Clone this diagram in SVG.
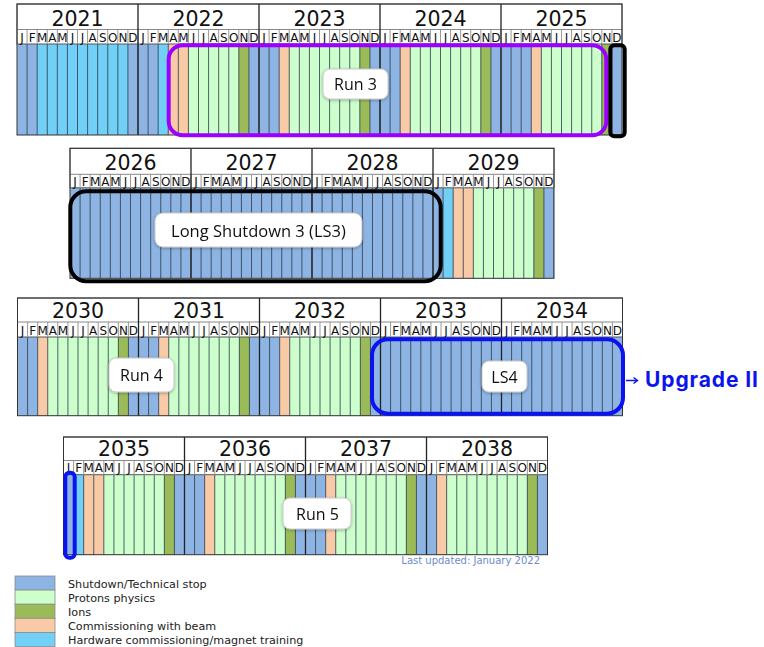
<svg xmlns="http://www.w3.org/2000/svg" xmlns:xlink="http://www.w3.org/1999/xlink" width="764" height="647" viewBox="0 0 764 647">
  <style>
    .sd{fill:#8DB4E2}
    .pp{fill:#CCFFCC}
    .ion{fill:#9BBB59}
    .cb{fill:#F9CAA6}
    .hw{fill:#72CFF6}
    .hdr{fill:#ffffff;stroke:#555;stroke-width:1}
    .hsep{stroke:#888;stroke-width:1}
    .hgrid{stroke:#9a9a9a;stroke-width:1;fill:none}
    .bgrid{stroke:#2b3a4a;stroke-width:0.8;fill:none}
    .ygrid{stroke:#222;stroke-width:1.3;fill:none}
    .frame{fill:none;stroke:#333;stroke-width:1}
    .yr{font-family:"DejaVu Sans",Verdana,sans-serif;font-size:20.5px;fill:#111;text-anchor:middle}
    .mo{font-family:"DejaVu Sans",Verdana,sans-serif;font-size:12px;fill:#111;text-anchor:middle}
    .lblbox{fill:#fff;stroke:#c8c8c8;stroke-width:1}
    .lbl{font-family:"Open Sans",sans-serif;font-size:16px;fill:#111;text-anchor:middle}
    .leg{font-family:"DejaVu Sans",Verdana,sans-serif;font-size:11.2px;fill:#222}
    .sw{stroke:#8a8a8a;stroke-width:0.8}
  </style>
  <defs>
    <!-- month separators, one every 121/12 px -->
    <path id="mlines" d="M10.08 0V130M20.17 0V130M30.25 0V130M40.33 0V130M50.42 0V130M60.5 0V130M70.58 0V130M80.67 0V130M90.75 0V130M100.83 0V130M110.92 0V130M121 0V130M131.08 0V130M141.17 0V130M151.25 0V130M161.33 0V130M171.42 0V130M181.5 0V130M191.58 0V130M201.67 0V130M211.75 0V130M221.83 0V130M231.92 0V130M242 0V130M252.08 0V130M262.17 0V130M272.25 0V130M282.33 0V130M292.42 0V130M302.5 0V130M312.58 0V130M322.67 0V130M332.75 0V130M342.83 0V130M352.92 0V130M363 0V130M373.08 0V130M383.17 0V130M393.25 0V130M403.33 0V130M413.42 0V130M423.5 0V130M433.58 0V130M443.67 0V130M453.75 0V130M463.83 0V130M473.92 0V130M484 0V130M494.08 0V130M504.17 0V130M514.25 0V130M524.33 0V130M534.42 0V130M544.5 0V130M554.58 0V130M564.67 0V130M574.75 0V130M584.83 0V130M594.92 0V130"/>
    <filter id="shadow" x="-20%" y="-30%" width="140%" height="170%">
      <feDropShadow dx="0" dy="1" stdDeviation="1.4" flood-color="#000" flood-opacity="0.3"/>
    </filter>
  </defs>

  <!-- 2021 - 2025 -->
  <g id="row-2021-2025" transform="translate(17,4)">
    <rect class="sd" x="0" y="40" width="605" height="91"/>
    <rect class="hw" x="20.17" y="40" width="90.75" height="91"/>
    <rect class="hw" x="141.17" y="40" width="10.08" height="91"/>
    <rect class="cb" x="151.25" y="40" width="20.17" height="91"/>
    <rect class="cb" x="262.17" y="40" width="10.08" height="91"/>
    <rect class="cb" x="383.17" y="40" width="10.08" height="91"/>
    <rect class="cb" x="514.25" y="40" width="10.08" height="91"/>
    <rect class="pp" x="171.42" y="40" width="50.42" height="91"/>
    <rect class="pp" x="272.25" y="40" width="70.58" height="91"/>
    <rect class="pp" x="393.25" y="40" width="70.58" height="91"/>
    <rect class="pp" x="524.33" y="40" width="60.5" height="91"/>
    <rect class="ion" x="221.83" y="40" width="10.08" height="91"/>
    <rect class="ion" x="342.83" y="40" width="10.08" height="91"/>
    <rect class="ion" x="463.83" y="40" width="10.08" height="91"/>
    <rect class="ion" x="584.83" y="40" width="10.08" height="91"/>
    <svg x="0" y="40" width="605" height="91"><use href="#mlines" class="bgrid"/></svg>
    <rect class="hdr" x="0" y="0" width="605" height="40"/>
    <svg x="0" y="25.5" width="605" height="14.5"><use href="#mlines" class="hgrid"/></svg>
    <line class="hsep" x1="0" y1="25.5" x2="605" y2="25.5"/>
    <path class="ygrid" d="M121 0V131M242 0V131M363 0V131M484 0V131"/>
    <rect class="frame" x="0" y="0" width="605" height="131"/>
    <text class="yr" x="60.5" y="22">2021</text>
    <text class="yr" x="181.5" y="22">2022</text>
    <text class="yr" x="302.5" y="22">2023</text>
    <text class="yr" x="423.5" y="22">2024</text>
    <text class="yr" x="544.5" y="22">2025</text>
    <text class="mo" y="37.7" x="5.04 15.13 25.21 35.29 45.38 55.46 65.54 75.63 85.71 95.79 105.88 115.96 126.04 136.13 146.21 156.29 166.38 176.46 186.54 196.63 206.71 216.79 226.88 236.96 247.04 257.13 267.21 277.29 287.38 297.46 307.54 317.63 327.71 337.79 347.88 357.96 368.04 378.13 388.21 398.29 408.38 418.46 428.54 438.63 448.71 458.79 468.88 478.96 489.04 499.13 509.21 519.29 529.38 539.46 549.54 559.63 569.71 579.79 589.88 599.96">JFMAMJJASONDJFMAMJJASONDJFMAMJJASONDJFMAMJJASONDJFMAMJJASOND</text>
  </g>

  <!-- 2026 - 2029 -->
  <g id="row-2026-2029" transform="translate(70,148.3)">
    <rect class="sd" x="0" y="39.5" width="484" height="90.5"/>
    <rect class="hw" x="373.08" y="39.5" width="10.08" height="90.5"/>
    <rect class="cb" x="383.17" y="39.5" width="20.17" height="90.5"/>
    <rect class="pp" x="403.33" y="39.5" width="60.5" height="90.5"/>
    <rect class="ion" x="463.83" y="39.5" width="10.08" height="90.5"/>
    <svg x="0" y="39.5" width="484" height="90.5"><use href="#mlines" class="bgrid"/></svg>
    <rect class="hdr" x="0" y="0" width="484" height="39.5"/>
    <svg x="0" y="26" width="484" height="13.5"><use href="#mlines" class="hgrid"/></svg>
    <line class="hsep" x1="0" y1="26" x2="484" y2="26"/>
    <path class="ygrid" d="M121 0V130M242 0V130M363 0V130"/>
    <rect class="frame" x="0" y="0" width="484" height="130"/>
    <text class="yr" x="60.5" y="21.7">2026</text>
    <text class="yr" x="181.5" y="21.7">2027</text>
    <text class="yr" x="302.5" y="21.7">2028</text>
    <text class="yr" x="423.5" y="21.7">2029</text>
    <text class="mo" y="37.4" x="5.04 15.13 25.21 35.29 45.38 55.46 65.54 75.63 85.71 95.79 105.88 115.96 126.04 136.13 146.21 156.29 166.38 176.46 186.54 196.63 206.71 216.79 226.88 236.96 247.04 257.13 267.21 277.29 287.38 297.46 307.54 317.63 327.71 337.79 347.88 357.96 368.04 378.13 388.21 398.29 408.38 418.46 428.54 438.63 448.71 458.79 468.88 478.96">JFMAMJJASONDJFMAMJJASONDJFMAMJJASONDJFMAMJJASOND</text>
  </g>

  <!-- 2030 - 2034 -->
  <g id="row-2030-2034" transform="translate(17.5,298)">
    <rect class="sd" x="0" y="39" width="605" height="78.7"/>
    <rect class="cb" x="20.17" y="39" width="10.08" height="78.7"/>
    <rect class="cb" x="141.17" y="39" width="10.08" height="78.7"/>
    <rect class="cb" x="262.17" y="39" width="10.08" height="78.7"/>
    <rect class="pp" x="30.25" y="39" width="70.58" height="78.7"/>
    <rect class="pp" x="151.25" y="39" width="70.58" height="78.7"/>
    <rect class="pp" x="272.25" y="39" width="70.58" height="78.7"/>
    <rect class="ion" x="100.83" y="39" width="10.08" height="78.7"/>
    <rect class="ion" x="221.83" y="39" width="10.08" height="78.7"/>
    <rect class="ion" x="342.83" y="39" width="10.08" height="78.7"/>
    <svg x="0" y="39" width="605" height="78.7"><use href="#mlines" class="bgrid"/></svg>
    <rect class="hdr" x="0" y="0" width="605" height="39"/>
    <svg x="0" y="24" width="605" height="15"><use href="#mlines" class="hgrid"/></svg>
    <line class="hsep" x1="0" y1="24" x2="605" y2="24"/>
    <path class="ygrid" d="M121 0V117.7M242 0V117.7M363 0V117.7M484 0V117.7"/>
    <rect class="frame" x="0" y="0" width="605" height="117.7"/>
    <text class="yr" x="60.5" y="20.3">2030</text>
    <text class="yr" x="181.5" y="20.3">2031</text>
    <text class="yr" x="302.5" y="20.3">2032</text>
    <text class="yr" x="423.5" y="20.3">2033</text>
    <text class="yr" x="544.5" y="20.3">2034</text>
    <text class="mo" y="37" x="5.04 15.13 25.21 35.29 45.38 55.46 65.54 75.63 85.71 95.79 105.88 115.96 126.04 136.13 146.21 156.29 166.38 176.46 186.54 196.63 206.71 216.79 226.88 236.96 247.04 257.13 267.21 277.29 287.38 297.46 307.54 317.63 327.71 337.79 347.88 357.96 368.04 378.13 388.21 398.29 408.38 418.46 428.54 438.63 448.71 458.79 468.88 478.96 489.04 499.13 509.21 519.29 529.38 539.46 549.54 559.63 569.71 579.79 589.88 599.96">JFMAMJJASONDJFMAMJJASONDJFMAMJJASONDJFMAMJJASONDJFMAMJJASOND</text>
  </g>

  <!-- 2035 - 2038 -->
  <g id="row-2035-2038" transform="translate(63.5,437)">
    <rect class="sd" x="0" y="37.7" width="484" height="80"/>
    <rect class="hw" x="10.08" y="37.7" width="10.08" height="80"/>
    <rect class="cb" x="20.17" y="37.7" width="20.17" height="80"/>
    <rect class="cb" x="141.17" y="37.7" width="10.08" height="80"/>
    <rect class="cb" x="262.17" y="37.7" width="10.08" height="80"/>
    <rect class="cb" x="373.08" y="37.7" width="10.08" height="80"/>
    <rect class="pp" x="40.33" y="37.7" width="60.5" height="80"/>
    <rect class="pp" x="151.25" y="37.7" width="70.58" height="80"/>
    <rect class="pp" x="272.25" y="37.7" width="70.58" height="80"/>
    <rect class="pp" x="383.17" y="37.7" width="80.67" height="80"/>
    <rect class="ion" x="100.83" y="37.7" width="10.08" height="80"/>
    <rect class="ion" x="221.83" y="37.7" width="10.08" height="80"/>
    <rect class="ion" x="342.83" y="37.7" width="10.08" height="80"/>
    <rect class="ion" x="463.83" y="37.7" width="10.08" height="80"/>
    <svg x="0" y="37.7" width="484" height="80"><use href="#mlines" class="bgrid"/></svg>
    <rect class="hdr" x="0" y="0" width="484" height="37.7"/>
    <svg x="0" y="23.5" width="484" height="14.2"><use href="#mlines" class="hgrid"/></svg>
    <line class="hsep" x1="0" y1="23.5" x2="484" y2="23.5"/>
    <path class="ygrid" d="M121 0V117.7M242 0V117.7M363 0V117.7"/>
    <rect class="frame" x="0" y="0" width="484" height="117.7"/>
    <text class="yr" x="60.5" y="19.3">2035</text>
    <text class="yr" x="181.5" y="19.3">2036</text>
    <text class="yr" x="302.5" y="19.3">2037</text>
    <text class="yr" x="423.5" y="19.3">2038</text>
    <text class="mo" y="35.3" x="5.04 15.13 25.21 35.29 45.38 55.46 65.54 75.63 85.71 95.79 105.88 115.96 126.04 136.13 146.21 156.29 166.38 176.46 186.54 196.63 206.71 216.79 226.88 236.96 247.04 257.13 267.21 277.29 287.38 297.46 307.54 317.63 327.71 337.79 347.88 357.96 368.04 378.13 388.21 398.29 408.38 418.46 428.54 438.63 448.71 458.79 468.88 478.96">JFMAMJJASONDJFMAMJJASONDJFMAMJJASONDJFMAMJJASOND</text>
  </g>

  <!-- period outlines -->
  <g id="run3-box"><rect x="168.7" y="45.3" width="437.6" height="90" rx="14" fill="none" stroke="#9B00FF" stroke-width="4"/></g>
  <g id="ys-2025-box"><rect x="610.3" y="45.3" width="14.4" height="91" rx="4" fill="none" stroke="#000" stroke-width="4"/></g>
  <g id="ls3-box"><rect x="70.3" y="191.3" width="370.4" height="90" rx="16" fill="none" stroke="#000" stroke-width="4"/></g>
  <g id="ls4-box"><rect x="372" y="339.3" width="251" height="74.4" rx="16" fill="none" stroke="#0B14EE" stroke-width="4"/></g>
  <g id="ys-2035-box"><rect x="65.3" y="472.7" width="9.4" height="85" rx="4" fill="none" stroke="#0B14EE" stroke-width="4"/></g>

  <!-- period labels -->
  <g id="run3-label" filter="url(#shadow)"><rect class="lblbox" x="323" y="69" width="65" height="30" rx="7"/><text class="lbl" x="355.5" y="90">Run 3</text></g>
  <g id="ls3-label" filter="url(#shadow)"><rect class="lblbox" x="155" y="213" width="207" height="34" rx="8"/><text class="lbl" x="258.5" y="237" style="font-size:16.5px">Long Shutdown 3 (LS3)</text></g>
  <g id="run4-label" filter="url(#shadow)"><rect class="lblbox" x="109" y="358" width="65" height="34" rx="7"/><text class="lbl" x="141.5" y="381">Run 4</text></g>
  <g id="ls4-label" filter="url(#shadow)"><rect class="lblbox" x="482" y="361" width="45" height="31" rx="7"/><text class="lbl" x="504.5" y="383">LS4</text></g>
  <g id="run5-label" filter="url(#shadow)"><rect class="lblbox" x="283" y="498" width="68" height="31" rx="7"/><text class="lbl" x="317.5" y="520">Run 5</text></g>

  <!-- LS4 call-out -->
  <g id="connectors">
    <path d="M626 380.5H636.5" stroke="#0B14EE" stroke-width="1.5" fill="none"/>
    <path d="M633.5 377.5L637.5 380.5L633.5 383.5" stroke="#0B14EE" stroke-width="1.5" fill="none"/>
  </g>
  <g id="upgrade-ii"><text x="645" y="387" font-family="Inter, 'Open Sans', sans-serif" font-weight="700" font-size="21" fill="#0B14EE" textLength="113">Upgrade II</text></g>

  <text x="540" y="564" font-family="'DejaVu Sans', Verdana, sans-serif" font-size="10" fill="#6C8CCB" text-anchor="end">Last updated: January 2022</text>

  <!-- legend -->
  <g id="legend">
    <rect class="sd sw" x="15" y="576" width="40" height="14.1"/>
    <rect class="pp sw" x="15" y="590.1" width="40" height="14.1"/>
    <rect class="ion sw" x="15" y="604.2" width="40" height="14.1"/>
    <rect class="cb sw" x="15" y="618.3" width="40" height="14.1"/>
    <rect class="hw sw" x="15" y="632.4" width="40" height="14.1"/>
    <text class="leg" x="68" y="587.5">Shutdown/Technical stop</text>
    <text class="leg" x="68" y="601.6">Protons physics</text>
    <text class="leg" x="68" y="615.7">Ions</text>
    <text class="leg" x="68" y="629.8">Commissioning with beam</text>
    <text class="leg" x="68" y="643.9">Hardware commissioning/magnet training</text>
  </g>
</svg>
